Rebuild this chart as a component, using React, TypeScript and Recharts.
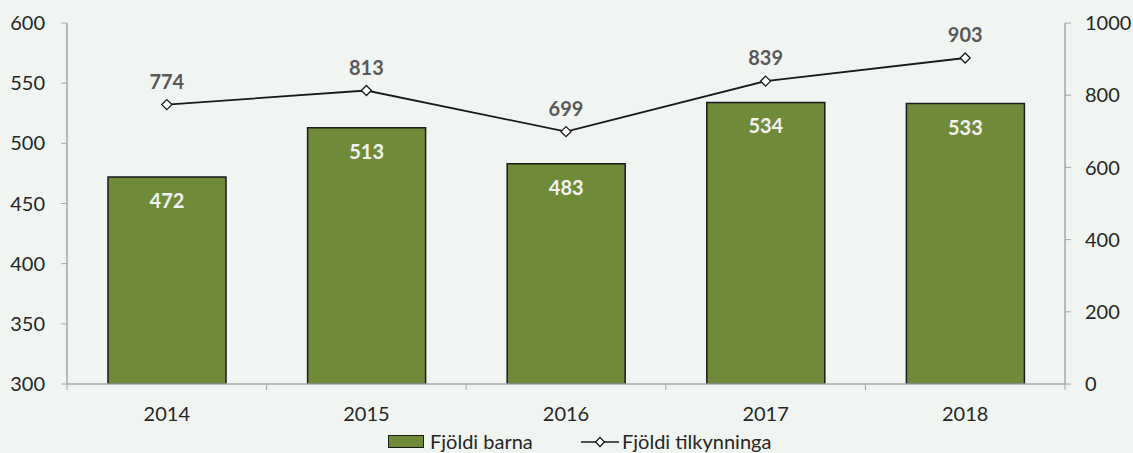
import React from 'react';
import { ComposedChart, Bar, Line, XAxis, YAxis, LabelList } from 'recharts';

const years = ['2014', '2015', '2016', '2017', '2018'];
const childCount = [472, 513, 483, 534, 533];
const reportCount = [774, 813, 699, 839, 903];
const leftTicks = [300, 350, 400, 450, 500, 550, 600];
const rightTicks = [0, 200, 400, 600, 800, 1000];

const W = 1133;
const H = 453;
const TOP = 23;
const LEFT_W = 67;
const RIGHT_W = 68;
const X_H = 69;
const plotBottom = H - X_H;
const band = (W - LEFT_W - RIGHT_W) / years.length;

const FONT = 'Lato, "Open Sans", sans-serif';
const AXIS = '#a6a6a6';
const BAR = '#6f8b3a';
const BG = '#f1f5f2';
const TXT = '#262626';

const data = years.map((y, i) => ({ year: y, barna: childCount[i], tilk: reportCount[i] }));

const XTick = (props: any) => {
  const { x, payload, index } = props;
  return (
    <g>
      <line x1={x - band / 2} x2={x - band / 2} y1={plotBottom} y2={plotBottom + 6} stroke={AXIS} />
      {index === years.length - 1 && (
        <line x1={x + band / 2} x2={x + band / 2} y1={plotBottom} y2={plotBottom + 6} stroke={AXIS} />
      )}
      <text x={x} y={plotBottom + 29} textAnchor="middle" dominantBaseline="central" fill={TXT} fontSize={20} fontFamily={FONT}>
        {payload.value}
      </text>
    </g>
  );
};

const Diamond = (props: any) => {
  const { cx, cy } = props;
  if (cx == null || cy == null) return null;
  const r = 5;
  return (
    <polygon
      points={`${cx},${cy - r} ${cx + r},${cy} ${cx},${cy + r} ${cx - r},${cy}`}
      fill="#fff"
      stroke="#1a1a1a"
      strokeWidth={1.3}
    />
  );
};

const barLabel = (props: any) => {
  const { x, y, width, value } = props;
  return (
    <text x={x + width / 2} y={y + 23} textAnchor="middle" dominantBaseline="central" fill="#f2f2f2" fontSize={20} fontWeight={700} fontFamily={FONT}>
      {value}
    </text>
  );
};

const lineLabel = (props: any) => {
  const { x, y, value } = props;
  return (
    <text x={x} y={y - 24} textAnchor="middle" dominantBaseline="central" fill="#595959" fontSize={20} fontWeight={700} fontFamily={FONT}>
      {value}
    </text>
  );
};

const legendText: React.CSSProperties = {
  position: 'absolute',
  top: 431,
  fontFamily: FONT,
  fontSize: 20,
  color: TXT,
  lineHeight: '20px',
  whiteSpace: 'nowrap',
};

const LegendBox = () => (
  <div style={{ position: 'absolute', left: 0, top: 0, width: W, height: H }}>
    <div style={{ position: 'absolute', left: 388, top: 435, width: 34, height: 11, background: BAR, border: '1.5px solid #1a1a1a' }} />
    <span style={{ ...legendText, left: 430 }}>Fjöldi barna</span>
    <svg width={38} height={12} style={{ position: 'absolute', left: 581, top: 436 }}>
      <line x1={0} x2={38} y1={6} y2={6} stroke="#1a1a1a" strokeWidth={1.3} />
      <polygon points="19,1.5 23.5,6 19,10.5 14.5,6" fill="#fff" stroke="#1a1a1a" strokeWidth={1.3} />
    </svg>
    <span style={{ ...legendText, left: 622 }}>Fjöldi tilkynninga</span>
  </div>
);

export default function App() {
  return (
    <div style={{ position: 'absolute', left: 0, top: 0, width: W, height: H, background: BG, overflow: 'hidden' }}>
      <ComposedChart width={W} height={H} data={data} margin={{ top: TOP, right: 0, bottom: 0, left: 0 }}>
        <XAxis
          dataKey="year"
          height={X_H}
          axisLine={{ stroke: AXIS, strokeWidth: 1.5 }}
          tickLine={false}
          tick={<XTick />}
          interval={0}
        />
        <YAxis
          yAxisId="left"
          domain={[300, 600]}
          ticks={leftTicks}
          allowDataOverflow
          width={LEFT_W}
          axisLine={{ stroke: AXIS, strokeWidth: 1.5 }}
          tickLine={{ stroke: AXIS }}
          tickSize={6}
          tickMargin={16}
          tick={{ fill: TXT, fontSize: 20, fontFamily: FONT }}
        />
        <YAxis
          yAxisId="right"
          orientation="right"
          domain={[0, 1000]}
          ticks={rightTicks}
          width={RIGHT_W}
          axisLine={{ stroke: AXIS, strokeWidth: 1.5 }}
          tickLine={{ stroke: AXIS }}
          tickSize={6}
          tickMargin={14}
          tick={{ fill: TXT, fontSize: 20, fontFamily: FONT, textAnchor: 'start' }}
        />
        <Bar yAxisId="left" dataKey="barna" name="Fjöldi barna" fill={BAR} stroke="#1a1a1a" strokeWidth={1.5} barSize={118} isAnimationActive={false}>
          <LabelList dataKey="barna" content={barLabel} />
        </Bar>
        <Line yAxisId="right" dataKey="tilk" name="Fjöldi tilkynninga" type="linear" stroke="#1a1a1a" strokeWidth={1.8} dot={<Diamond />} activeDot={false} isAnimationActive={false}>
          <LabelList dataKey="tilk" content={lineLabel} />
        </Line>
      </ComposedChart>
      <LegendBox />
    </div>
  );
}
